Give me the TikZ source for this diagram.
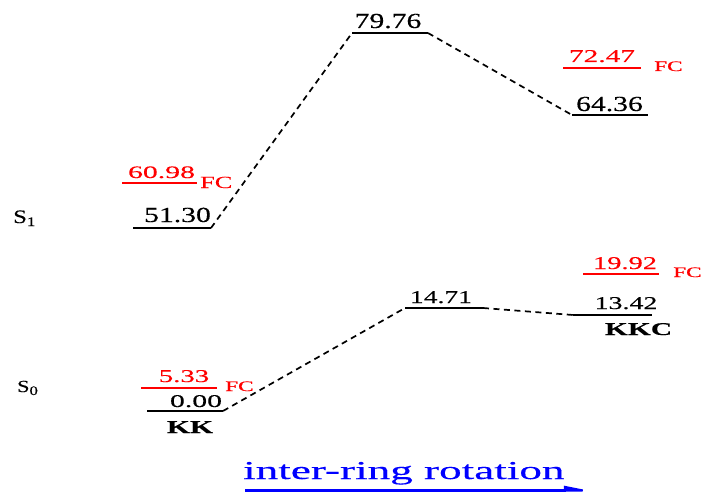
\documentclass[tikz,border=0pt]{standalone}
\usepackage{fontspec}
\usepackage{graphicx}
\setmainfont{Liberation Serif}[FakeBold=0.25]
\usetikzlibrary{arrows.meta}
\newcommand{\T}[3]{\scalebox{#1}[1]{\fontsize{#2}{#2}\selectfont #3}}
\tikzset{
  lvl/.style={line width=1.8pt, black},
  fclvl/.style={line width=1.6pt, red},
  conn/.style={line width=1.7pt, black, dash pattern=on 6pt off 4.5pt},
  lab/.style={inner sep=0pt, anchor=base},
  labw/.style={inner sep=0pt, anchor=base west},
}
\begin{document}
\begin{tikzpicture}[x=1pt,y=-1pt]
\useasboundingbox (0,0) rectangle (703,492);
% S1 levels
\coordinate (a1) at (133,228); \coordinate (a2) at (211,228);
\coordinate (b1) at (352,33);  \coordinate (b2) at (428,33);
\coordinate (c1) at (572,115); \coordinate (c2) at (648,115);
\draw[lvl] (a1) -- (a2);
\draw[lvl] (b1) -- (b2);
\draw[lvl] (c1) -- (c2);
\draw[conn] (a2) -- (b1);
\draw[conn] (b2) -- (c1);
\node[lab] (t5130) at (177.5,222) {\T{1.38}{21.5}{51.30}};
\node[lab] (t7976) at (388,28) {\T{1.38}{21.5}{79.76}};
\node[lab] (t6436) at (609.5,111) {\T{1.38}{21.5}{64.36}};
% S1 FC
\coordinate (d1) at (122,183); \coordinate (d2) at (197,183);
\coordinate (e1) at (563,68);  \coordinate (e2) at (641,68);
\draw[fclvl] (d1) -- (d2);
\draw[fclvl] (e1) -- (e2);
\node[lab,red] (t6098) at (161.5,178) {\T{1.7}{17.5}{60.98}};
\node[labw,red] (fc1) at (200,188) {\T{1.55}{17}{FC}};
\node[lab,red] (t7247) at (602,62) {\T{1.63}{18}{72.47}};
\node[labw,red] (fc2) at (654,71) {\T{1.6}{14.5}{FC}};
% S0 levels
\coordinate (f1) at (147,411); \coordinate (f2) at (223,411);
\coordinate (g1) at (405,308); \coordinate (g2) at (483,308);
\coordinate (h1) at (573,315); \coordinate (h2) at (652,315);
\draw[lvl] (f1) -- (f2);
\draw[lvl] (g1) -- (g2);
\draw[lvl] (h1) -- (h2);
\draw[conn] (f2) -- (g1);
\draw[conn] (g2) -- (h1);
\node[lab] (t000) at (196,407) {\T{1.65}{18}{0.00}};
\node[lab] (t1471) at (441,303) {\T{1.53}{18}{14.71}};
\node[lab] (t1342) at (626,309) {\T{1.55}{18}{13.42}};
% S0 FC
\coordinate (i1) at (141,388); \coordinate (i2) at (217,388);
\coordinate (j1) at (583,274); \coordinate (j2) at (659,274);
\draw[fclvl] (i1) -- (i2);
\draw[fclvl] (j1) -- (j2);
\node[lab,red] (t533) at (184,382) {\T{1.6}{18}{5.33}};
\node[labw,red] (fc3) at (225,391) {\T{1.6}{14.5}{FC}};
\node[lab,red] (t1992) at (625,269) {\T{1.58}{18}{19.92}};
\node[labw,red] (fc4) at (673,277) {\T{1.6}{14.5}{FC}};
% conformer labels
\node[lab] (kk) at (190,433) {\T{1.65}{18}{\bfseries KK}};
\node[lab] (kkc) at (638.5,335) {\T{1.64}{18}{\bfseries KKC}};
% state labels
\node[labw] (s1) at (13,223) {\T{1.3}{19}{S\raisebox{-3pt}{\fontsize{13}{13}\selectfont 1}}};
\node[labw] (s0) at (17,392) {\T{1.3}{17}{S\raisebox{-3pt}{\fontsize{13}{13}\selectfont 0}}};
% axis
\node[labw,blue] (rot) at (243,479) {\T{1.75}{25.8}{inter-ring rotation}};
\coordinate (r1) at (245,490.5); \coordinate (r2) at (595,490.5);
\draw[blue, line width=2.2pt, -{Triangle[left,length=25pt,width=9pt]}] (r1) -- (r2);
\end{tikzpicture}
\end{document}
